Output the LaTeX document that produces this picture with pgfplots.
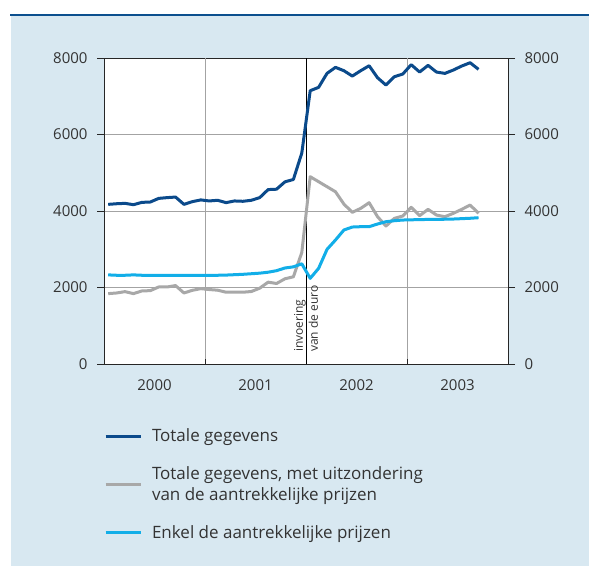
\documentclass[border=0pt]{standalone}
\usepackage{fontspec}
\setmainfont{Open Sans}
\usepackage{pgfplots}
\pgfplotsset{compat=1.18}
\definecolor{bgc}{HTML}{D8E8F1}
\definecolor{topline}{HTML}{0B4F8E}
\definecolor{cdark}{HTML}{0B4A8B}
\definecolor{cgray}{HTML}{A8A8A8}
\definecolor{clight}{HTML}{12AEE8}
\definecolor{gridc}{HTML}{A3A3A3}
\definecolor{textc}{HTML}{333333}

\pgfplotstableread{
x y
0.5 4174
1.5 4190
2.5 4200
3.5 4165
4.5 4226
5.5 4235
6.5 4330
7.5 4350
8.5 4365
9.5 4174
10.5 4245
11.5 4290
12.5 4263
13.5 4280
14.5 4219
15.5 4263
16.5 4254
17.5 4280
18.5 4350
19.5 4560
20.5 4570
21.5 4763
22.5 4824
23.5 5515
24.5 7145
25.5 7233
26.5 7599
27.5 7756
28.5 7668
29.5 7528
30.5 7668
31.5 7798
32.5 7484
33.5 7293
34.5 7511
35.5 7581
36.5 7825
37.5 7633
38.5 7808
39.5 7633
40.5 7598
41.5 7685
42.5 7790
43.5 7877
44.5 7703
}\totale

\pgfplotstableread{
x y
0.5 1840
1.5 1857
2.5 1892
3.5 1840
4.5 1910
5.5 1918
6.5 2014
7.5 2014
8.5 2050
9.5 1857
10.5 1927
11.5 1970
12.5 1947
13.5 1930
14.5 1877
15.5 1877
16.5 1877
17.5 1895
18.5 1982
19.5 2140
20.5 2105
21.5 2228
22.5 2280
23.5 2914
24.5 4897
25.5 4766
26.5 4635
27.5 4504
28.5 4182
29.5 3965
30.5 4069
31.5 4217
32.5 3851
33.5 3607
34.5 3808
35.5 3869
36.5 4096
37.5 3878
38.5 4043
39.5 3895
40.5 3851
41.5 3939
42.5 4043
43.5 4156
44.5 3939
}\zonder

\pgfplotstableread{
x y
0.5 2330
1.5 2320
2.5 2320
3.5 2330
4.5 2320
5.5 2320
6.5 2320
7.5 2320
8.5 2320
9.5 2320
10.5 2320
11.5 2320
12.5 2320
13.5 2320
14.5 2325
15.5 2335
16.5 2345
17.5 2360
18.5 2375
19.5 2400
20.5 2440
21.5 2510
22.5 2540
23.5 2620
24.5 2240
25.5 2501
26.5 2998
27.5 3241
28.5 3503
29.5 3581
30.5 3590
31.5 3590
32.5 3660
33.5 3720
34.5 3746
35.5 3764
36.5 3770
37.5 3775
38.5 3780
39.5 3780
40.5 3785
41.5 3790
42.5 3800
43.5 3810
44.5 3825
}\enkel

\begin{document}
\begin{tikzpicture}
\path[use as bounding box] (0,0) rectangle (589bp,-566bp);
\fill[bgc] (11bp,-15bp) rectangle (589bp,-566bp);
\draw[topline, line width=2bp] (10bp,-15bp) -- (589bp,-15bp);

\pgfplotsset{
  mybase/.style={
    at={(104bp,-364bp)}, anchor=south west,
    scale only axis, width=404bp, height=306bp,
    xmin=0, xmax=48, ymin=0, ymax=8000,
    axis line style={draw=black!85, line width=0.9bp},
    tick style={draw=black!85, line width=0.9bp},
    ticklabel style={font=\fontsize{15bp}{17bp}\selectfont, text=textc},
    /pgf/number format/assume math mode=true,
    /pgf/number format/1000 sep={},
  }
}

\begin{axis}[mybase,
  axis background/.style={fill=white},
  xtick={6,18,30,42}, xticklabels={2000,2001,2002,2003},
  xtick pos=bottom, tick align=inside, major tick length=0pt,
  xticklabel style={yshift=-12bp},
  extra x ticks={12,24,36}, extra x tick labels={},
  extra x tick style={grid=major, major tick length=5bp},
  ytick={0,2000,4000,6000,8000}, yticklabels={}, ymajorgrids,
  major grid style={draw=gridc, line width=0.9bp},
  legend style={at={(0,-0.212)}, anchor=north west, draw=none, fill=none,
    inner sep=0pt, outer sep=0pt, row sep=23.5bp,
    font=\fontsize{17bp}{21bp}\selectfont, text=textc,
    cells={align=left, anchor=west},
    nodes={inner sep=0pt},
    /tikz/every odd column/.append style={column sep=10bp}},
  legend cell align=left,
  legend image code/.code={\draw[#1, line width=3bp] (0bp,0bp) -- (35bp,0bp);},
]
\draw[black, line width=1bp] (axis cs:24,0) -- (axis cs:24,8000);
\addplot[cdark, line width=3bp, line join=round] table[x=x,y=y] {\totale};
\addlegendentry{Totale gegevens}
\addplot[cgray, line width=3bp, line join=round] table[x=x,y=y] {\zonder};
\addlegendentry{Totale gegevens, met uitzondering\\van de aantrekkelijke prijzen}
\addplot[clight, line width=3bp, line join=round] table[x=x,y=y] {\enkel};
\addlegendentry{Enkel de aantrekkelijke prijzen}
\node[rotate=90, anchor=west, align=left, inner sep=0pt, text=textc,
  font=\fontsize{12bp}{15bp}\selectfont] at (axis cs:24,314) {invoering\\van de euro};
\end{axis}

\begin{axis}[mybase, hide x axis, axis y line*=left,
  ytick={0,2000,4000,6000,8000}, tick align=outside, major tick length=7bp,
  yticklabel style={xshift=-6bp}]
\end{axis}
\begin{axis}[mybase, hide x axis, axis y line*=right,
  ytick={0,2000,4000,6000,8000}, tick align=outside, major tick length=7bp,
  yticklabel style={xshift=6bp}]
\end{axis}
\end{tikzpicture}
\end{document}
